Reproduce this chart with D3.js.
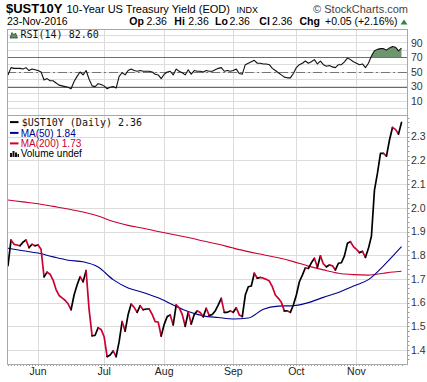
<!DOCTYPE html>
<html><head><meta charset="utf-8">
<script src="https://cdn.jsdelivr.net/npm/d3@7/dist/d3.min.js"></script>
<style>body{margin:0;background:#fff;}svg{display:block;}</style>
</head><body>
<svg id="c" width="427" height="382"></svg>
<script>
// ---- data (trading-day index 0 = 17-May-2016 ... 131 = 23-Nov-2016) ----
const months = ["Jun","Jul","Aug","Sep","Oct","Nov"];
const monthStart = [10,32,52,75,96,116];
const price = [1.756,1.864,1.846,1.843,1.840,1.855,1.864,1.832,1.846,1.840,
1.843,1.825,1.709,1.728,1.720,1.695,1.655,1.630,1.620,1.610,
1.595,1.570,1.632,1.674,1.709,1.688,1.735,1.570,1.460,1.462,
1.494,1.487,1.456,1.372,1.379,1.396,1.372,1.435,1.520,1.480,
1.550,1.594,1.580,1.559,1.587,1.570,1.573,1.573,1.550,1.520,
1.518,1.459,1.508,1.541,1.548,1.506,1.590,1.578,1.550,1.500,
1.560,1.510,1.550,1.565,1.558,1.540,1.576,1.545,1.550,1.565,
1.590,1.618,1.559,1.559,1.565,1.559,1.578,1.548,1.541,1.632,
1.667,1.670,1.724,1.703,1.706,1.703,1.698,1.691,1.667,1.632,
1.618,1.601,1.565,1.565,1.559,1.590,1.632,1.688,1.716,1.747,
1.744,1.768,1.787,1.749,1.797,1.763,1.751,1.759,1.755,1.738,
1.766,1.768,1.797,1.850,1.857,1.836,1.825,1.811,1.816,1.791,
1.829,1.881,2.075,2.146,2.230,2.230,2.218,2.286,2.339,2.331,
2.311,2.360];
const rsi = [46,56,55,55,55,54,56,52,54,53,
52,50,39,41,38,38,35,32,31,30,
29,27,37,44,50,46,52,40,31,30,
34,33,31,27,29,30,28,44,49,46,
52,54,52,51,52,51,51,51,50,47,
46,41,47,50,51,46,54,51,49,46,
53,47,52,51,51,50,52,51,51,53,
55,56,51,52,51,52,54,48,47,60,
62,64,66,62,62,61,61,60,55,52,
49,46,43,42,42,48,56,60,62,65,
62,64,67,61,65,60,58,59,57,56,
60,60,64,69,67,64,62,60,61,56,
62,72,79,81,82,82,80,83,85,84,
79,82.6];
const maIdx = [0,5,10,15,20,25,30,35,40,45,50,55,60,65,70,75,80,85,90,95,100,105,110,115,120,125,130,131];
const ma50  = [1.829,1.819,1.809,1.793,1.779,1.772,1.750,1.697,1.662,1.643,1.620,1.590,1.562,1.544,1.537,1.531,1.535,1.572,1.585,1.587,1.600,1.622,1.643,1.670,1.697,1.755,1.822,1.836];
const ma200 = [2.033,2.025,2.017,2.006,1.995,1.982,1.965,1.942,1.926,1.914,1.900,1.887,1.875,1.860,1.846,1.830,1.815,1.802,1.789,1.773,1.754,1.738,1.724,1.718,1.716,1.724,1.731,1.732];
const priceTicks = [1.4,1.5,1.6,1.7,1.8,1.9,2.0,2.1,2.2,2.3];
const rsiTicks = [10,30,50,70,90];
const rsiGrid = [0,10,20,30,40,50,60,70,80,90,100];

// ---- layout ----
const L = 7, R = 407, rTop = 29, mTop = 115, mBot = 364;
const RED = "#cc0033", BLUE = "#00008f", GRID = "#dcdcdc", BORDER = "#a8a8a8";
const svg = d3.select("#c");
const x = d3.scaleLinear().domain([0, 131]).range([8, 401.5]);
const y = d3.scaleLinear().domain([1.4, 2.3]).range([350, 136.7]);
const yr = d3.scaleLinear().domain([0, 100]).range([108.5, 35.5]);

// header
const hdr = svg.append("g").attr("font-family", "'Liberation Sans', Arial, sans-serif").attr("fill", "#000");
hdr.append("text").attr("x", 6).attr("y", 13).attr("font-size", 13).attr("font-weight", "bold").text("$UST10Y");
hdr.append("text").attr("x", 66.5).attr("y", 12.5).attr("font-size", 11).text("10-Year US Treasury Yield (EOD)");
hdr.append("text").attr("x", 236.5).attr("y", 12.5).attr("font-size", 9).text("INDX");
hdr.append("text").attr("x", 408).attr("y", 12.5).attr("font-size", 11).attr("fill", "#444").attr("text-anchor", "end").text("\u00A9 StockCharts.com");
hdr.append("text").attr("x", 7).attr("y", 25).attr("font-size", 10.5).text("23-Nov-2016");
const ohlc = [
  {x:129.3, t:"Op", b:true},{x:146.5, t:"2.36"},
  {x:174.3, t:"Hi", b:true},{x:188.3, t:"2.36"},
  {x:215, t:"Lo", b:true},{x:229.5, t:"2.36"},
  {x:259.3, t:"Cl", b:true},{x:272, t:"2.36"},
  {x:299.5, t:"Chg", b:true},{x:325, t:"+0.05 (+2.16%)"}];
hdr.selectAll("text.o").data(ohlc).join("text").attr("class","o")
  .attr("x", d => d.x).attr("y", 25).attr("font-size", 10.5)
  .attr("font-weight", d => d.b ? "bold" : "normal").text(d => d.t);
hdr.append("path").attr("d", "M400.5,24.5 L404,19.5 L407.5,24.5 Z").attr("fill", "#2e8b3a");

// ---- RSI panel ----
const rp = svg.append("g");
rp.selectAll("line.rg").data(rsiGrid).join("line").attr("class","rg")
  .attr("x1", L).attr("x2", R).attr("y1", d => yr(d)).attr("y2", d => yr(d))
  .attr("stroke", GRID).attr("stroke-width", 1).attr("shape-rendering","crispEdges");
rp.selectAll("line.rv").data(monthStart).join("line").attr("class","rv")
  .attr("x1", d => Math.round(x(d))+0.5).attr("x2", d => Math.round(x(d))+0.5)
  .attr("y1", rTop).attr("y2", mTop).attr("stroke", GRID);
[70,30].forEach(v => rp.append("line").attr("x1", L).attr("x2", R)
  .attr("y1", Math.round(yr(v))+0.5).attr("y2", Math.round(yr(v))+0.5).attr("stroke", "#6a6a6a"));
rp.append("line").attr("x1", L).attr("x2", R)
  .attr("y1", Math.round(yr(50))+0.5).attr("y2", Math.round(yr(50))+0.5)
  .attr("stroke", "#777").attr("stroke-dasharray", "9,3,2,3");

svg.append("clipPath").attr("id","above70").append("rect")
  .attr("x", L).attr("y", rTop).attr("width", R-L).attr("height", yr(70)-rTop);
rp.append("path").datum(rsi).attr("clip-path","url(#above70)")
  .attr("d", d3.area().x((d,i) => x(i)).y0(yr(70)).y1(d => yr(d)))
  .attr("fill", "#6e966e");
rp.append("path").datum(rsi)
  .attr("d", d3.line().x((d,i) => x(i)).y(d => yr(d)))
  .attr("fill", "none").attr("stroke", "#111").attr("stroke-width", 1.1).attr("stroke-linejoin","round");

rp.selectAll("text.rt").data(rsiTicks).join("text").attr("class","rt")
  .attr("x", 411).attr("y", d => yr(d)).attr("dy", "0.36em")
  .attr("font-family", "'Liberation Sans', Arial, sans-serif").attr("font-size", 10.5).attr("fill", "#333")
  .text(d => d);
// RSI label
rp.append("path").attr("d","M10,38 L12,32.5 L14,35 L15.5,33 L17.5,38 Z").attr("fill","#5f8f5f").attr("stroke","#2f4f2f").attr("stroke-width",0.8);
rp.append("text").attr("x", 20.5).attr("y", 38.3).attr("font-family","'DejaVu Sans Mono', monospace")
  .attr("font-size", 10).attr("fill", "#111").text("RSI(14) 82.60");
rp.append("rect").attr("x", L+0.5).attr("y", rTop+0.5).attr("width", R-L).attr("height", mTop-rTop)
  .attr("fill","none").attr("stroke", BORDER);

// ---- main price panel ----
const mp = svg.append("g");
mp.selectAll("line.pg").data(priceTicks).join("line").attr("class","pg")
  .attr("x1", L).attr("x2", R).attr("y1", d => Math.round(y(d))+0.5).attr("y2", d => Math.round(y(d))+0.5)
  .attr("stroke", GRID);
mp.selectAll("line.pv").data(monthStart).join("line").attr("class","pv")
  .attr("x1", d => Math.round(x(d))+0.5).attr("x2", d => Math.round(x(d))+0.5)
  .attr("y1", mTop).attr("y2", mBot).attr("stroke", GRID);

svg.append("clipPath").attr("id","mainClip").append("rect")
  .attr("x", L).attr("y", mTop).attr("width", R-L).attr("height", mBot-mTop);
const plot = mp.append("g").attr("clip-path","url(#mainClip)");
const maLine = d3.line().x((d,i) => x(maIdx[i])).y(d => y(d)).curve(d3.curveMonotoneX);
plot.append("path").datum(ma200).attr("d", maLine).attr("fill","none").attr("stroke", RED).attr("stroke-width", 1.1);
plot.append("path").datum(ma50).attr("d", maLine).attr("fill","none").attr("stroke", BLUE).attr("stroke-width", 1.1);

// price line: black on up days, red on down days, drawn as runs
const runs = [];
for (let i = 1; i < price.length; i++) {
  const up = price[i] >= price[i-1];
  const last = runs[runs.length-1];
  if (last && last.up === up) last.idx.push(i);
  else runs.push({up, idx: [i-1, i]});
}
const pLine = d3.line().x(i => x(i)).y(i => y(price[i]));
plot.selectAll("path.run").data(runs).join("path").attr("class","run")
  .attr("d", d => pLine(d.idx)).attr("fill","none")
  .attr("stroke", d => d.up ? "#000" : RED).attr("stroke-width", 1.7)
  .attr("stroke-linejoin","round").attr("stroke-linecap","round");

// y axis labels + minor ticks
mp.selectAll("text.pt").data(priceTicks).join("text").attr("class","pt")
  .attr("x", 411).attr("y", d => y(d)).attr("dy","0.36em")
  .attr("font-family", "'Liberation Sans', Arial, sans-serif").attr("font-size", 10.5).attr("fill","#333")
  .text(d => d.toFixed(1));
const minor = d3.range(68, 120).map(v => v / 50);
mp.selectAll("line.mt").data(minor).join("line").attr("class","mt")
  .attr("x1", R).attr("x2", R+2.5).attr("y1", d => Math.round(y(d))+0.5).attr("y2", d => Math.round(y(d))+0.5)
  .attr("stroke", "#999");
// x axis day ticks + month labels
mp.selectAll("line.dt").data(price).join("line").attr("class","dt")
  .attr("x1", (d,i) => Math.round(x(i))+0.5).attr("x2", (d,i) => Math.round(x(i))+0.5)
  .attr("y1", mBot).attr("y2", mBot+2).attr("stroke", "#999");
mp.selectAll("text.mo").data(months).join("text").attr("class","mo")
  .attr("x", (d,i) => x(monthStart[i])).attr("y", 374.5).attr("text-anchor","middle")
  .attr("font-family", "'Liberation Sans', Arial, sans-serif").attr("font-size", 10.5).attr("fill","#222")
  .text(d => d);

mp.append("rect").attr("x", L+0.5).attr("y", mTop+0.5).attr("width", R-L).attr("height", mBot-mTop)
  .attr("fill","none").attr("stroke", BORDER);

// legend
const lg = svg.append("g");
const legend = [
  {t:"$UST10Y (Daily) 2.36", c:"#000", tc:"#111", y:125.7, mono:true},
  {t:"MA(50) 1.84", c:BLUE, tc:BLUE, y:136.5},
  {t:"MA(200) 1.73", c:RED, tc:RED, y:147}];
legend.forEach(d => {
  lg.append("line").attr("x1", 10).attr("x2", 18.5).attr("y1", d.y-3.6).attr("y2", d.y-3.6)
    .attr("stroke", d.c).attr("stroke-width", 2);
  lg.append("text").attr("x", d.mono ? 21.7 : 20.7).attr("y", d.y)
    .attr("font-family", d.mono ? "'DejaVu Sans Mono', monospace" : "'Liberation Sans', Arial, sans-serif")
    .attr("font-size", 10).attr("fill", d.tc).text(d.t);
});
[[10,153,2,4],[12.5,151,2,6],[15,152.5,2,4.5],[17.5,154,1.5,3]].forEach(b =>
  lg.append("rect").attr("x", b[0]).attr("y", b[1]).attr("width", b[2]).attr("height", b[3]).attr("fill", "#111"));
lg.append("text").attr("x", 20.7).attr("y", 157).attr("font-family","'Liberation Sans', Arial, sans-serif")
  .attr("font-size", 10).attr("fill","#000").text("Volume undef");
</script>
</body></html>
